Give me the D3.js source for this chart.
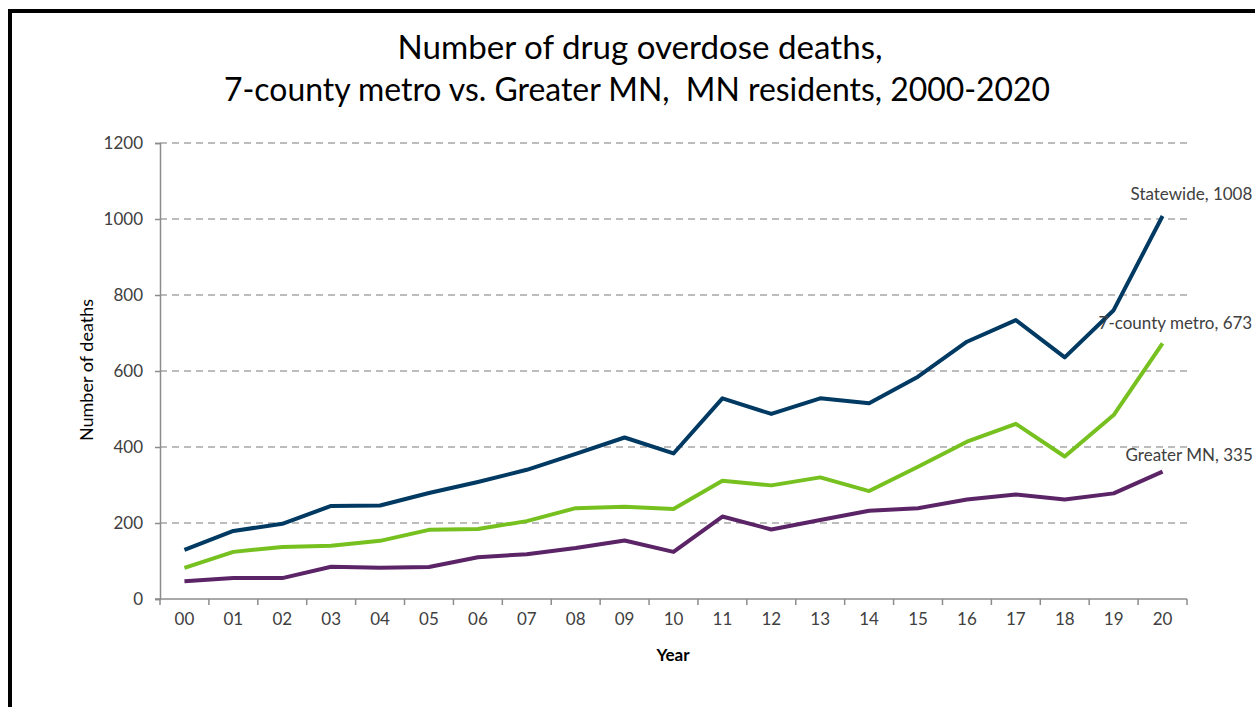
<!DOCTYPE html>
<html>
<head>
<meta charset="utf-8">
<script src="https://cdn.jsdelivr.net/npm/d3@7"></script>
<style>
  html, body { margin: 0; padding: 0; background: #fff; }
  svg { display: block; }
  text { font-family: Lato, "Open Sans", sans-serif; white-space: pre; }
</style>
</head>
<body>
<svg id="chart" width="1255" height="707"></svg>
<script>
// Minnesota drug overdose deaths by region, 2000-2020
const years = ["00","01","02","03","04","05","06","07","08","09","10",
               "11","12","13","14","15","16","17","18","19","20"];
const statewide   = [129,179,198,245,246,279,308,340,382,425,383,528,487,528,515,585,677,734,636,760,1008];
const metro       = [82,124,137,140,153,182,184,205,239,243,237,311,299,320,284,348,414,461,375,484,673];
const greaterMN   = [47,55,55,85,82,84,110,118,134,154,124,217,183,208,232,239,262,275,262,278,335];
const yTicks      = [0,200,400,600,800,1000,1200];
const seriesNames = ["Statewide","7-county metro","Greater MN"];

const series = [
  { name: seriesNames[0], values: statewide, color: "#003a63", dx: -32, dy: -16 },
  { name: seriesNames[1], values: metro,     color: "#76c11f", dx: -64, dy: -14 },
  { name: seriesNames[2], values: greaterMN, color: "#5b2466", dx: -37, dy: -11 }
];

const svg = d3.select("#chart");
const W = 1255, H = 707;
const plot = { left: 160, right: 1187, top: 143, bottom: 599 };

// outer frame
svg.append("rect")
  .attr("x", 10).attr("y", 11)
  .attr("width", W + 20).attr("height", H + 20)
  .attr("fill", "none").attr("stroke", "#000").attr("stroke-width", 4);

const x = d3.scaleBand().domain(years).range([plot.left, plot.right]);
const y = d3.scaleLinear().domain([0, 1200]).range([plot.bottom, plot.top]);

// horizontal dashed gridlines
svg.append("g")
  .selectAll("line")
  .data(yTicks.filter(d => d > 0))
  .join("line")
  .attr("x1", plot.left).attr("x2", plot.right)
  .attr("y1", d => y(d)).attr("y2", d => y(d))
  .attr("stroke", "#a6a6a6").attr("stroke-width", 1.5)
  .attr("stroke-dasharray", "7,5");

// y axis
const yAxis = svg.append("g")
  .attr("transform", `translate(${plot.left},0)`)
  .call(d3.axisLeft(y).tickValues(yTicks).tickSize(5).tickPadding(12).tickFormat(d3.format("d")));
yAxis.select(".domain").attr("stroke", "#8c8c8c").attr("stroke-width", 1.5);
yAxis.selectAll(".tick line").attr("stroke", "#8c8c8c").attr("stroke-width", 1.5);
yAxis.selectAll(".tick text").attr("fill", "#404040").style("font-size", "17px");

// x axis with ticks on category boundaries
const xAxis = svg.append("g")
  .attr("transform", `translate(0,${plot.bottom})`)
  .call(d3.axisBottom(x).tickSize(0).tickPadding(14));
xAxis.select(".domain")
  .attr("d", `M${plot.left - 5},0H${plot.right}`)
  .attr("stroke", "#8c8c8c").attr("stroke-width", 1.5);
xAxis.selectAll(".tick text").attr("fill", "#404040").style("font-size", "17px");
xAxis.append("g")
  .selectAll("line")
  .data(d3.range(years.length + 1))
  .join("line")
  .attr("x1", i => plot.left + i * x.step())
  .attr("x2", i => plot.left + i * x.step())
  .attr("y1", 0).attr("y2", 6)
  .attr("stroke", "#8c8c8c").attr("stroke-width", 1.5);

// axis titles
svg.append("text")
  .attr("x", 673).attr("y", 661)
  .attr("text-anchor", "middle")
  .attr("fill", "#000")
  .style("font-size", "17px").style("font-weight", "bold")
  .text("Year");

svg.append("text")
  .attr("transform", "translate(93,370) rotate(-90)")
  .attr("text-anchor", "middle")
  .attr("fill", "#000")
  .style("font-size", "18px")
  .text("Number of deaths");

// title
const title = svg.append("text")
  .attr("text-anchor", "middle")
  .attr("fill", "#000")
  .style("font-size", "33px");
title.append("tspan").attr("x", 640).attr("y", 59)
  .attr("textLength", 485).attr("lengthAdjust", "spacingAndGlyphs")
  .text("Number of drug overdose deaths,");
title.append("tspan").attr("x", 637).attr("y", 101)
  .attr("textLength", 826).attr("lengthAdjust", "spacingAndGlyphs")
  .text("7-county metro vs. Greater MN,  MN residents, 2000-2020");

// series lines
const line = d3.line()
  .x((d, i) => x(years[i]) + x.bandwidth() / 2)
  .y(d => y(d));

svg.append("g")
  .selectAll("path")
  .data(series)
  .join("path")
  .attr("d", d => line(d.values))
  .attr("fill", "none")
  .attr("stroke", d => d.color)
  .attr("stroke-width", 4)
  .attr("stroke-linejoin", "round");

// end-of-line labels
svg.append("g")
  .selectAll("text")
  .data(series)
  .join("text")
  .attr("x", d => x(years[years.length - 1]) + x.bandwidth() / 2 + d.dx)
  .attr("y", d => y(d.values[d.values.length - 1]) + d.dy)
  .attr("fill", "#404040")
  .style("font-size", "17px")
  .text(d => `${d.name}, ${d.values[d.values.length - 1]}`);
</script>
</body>
</html>
